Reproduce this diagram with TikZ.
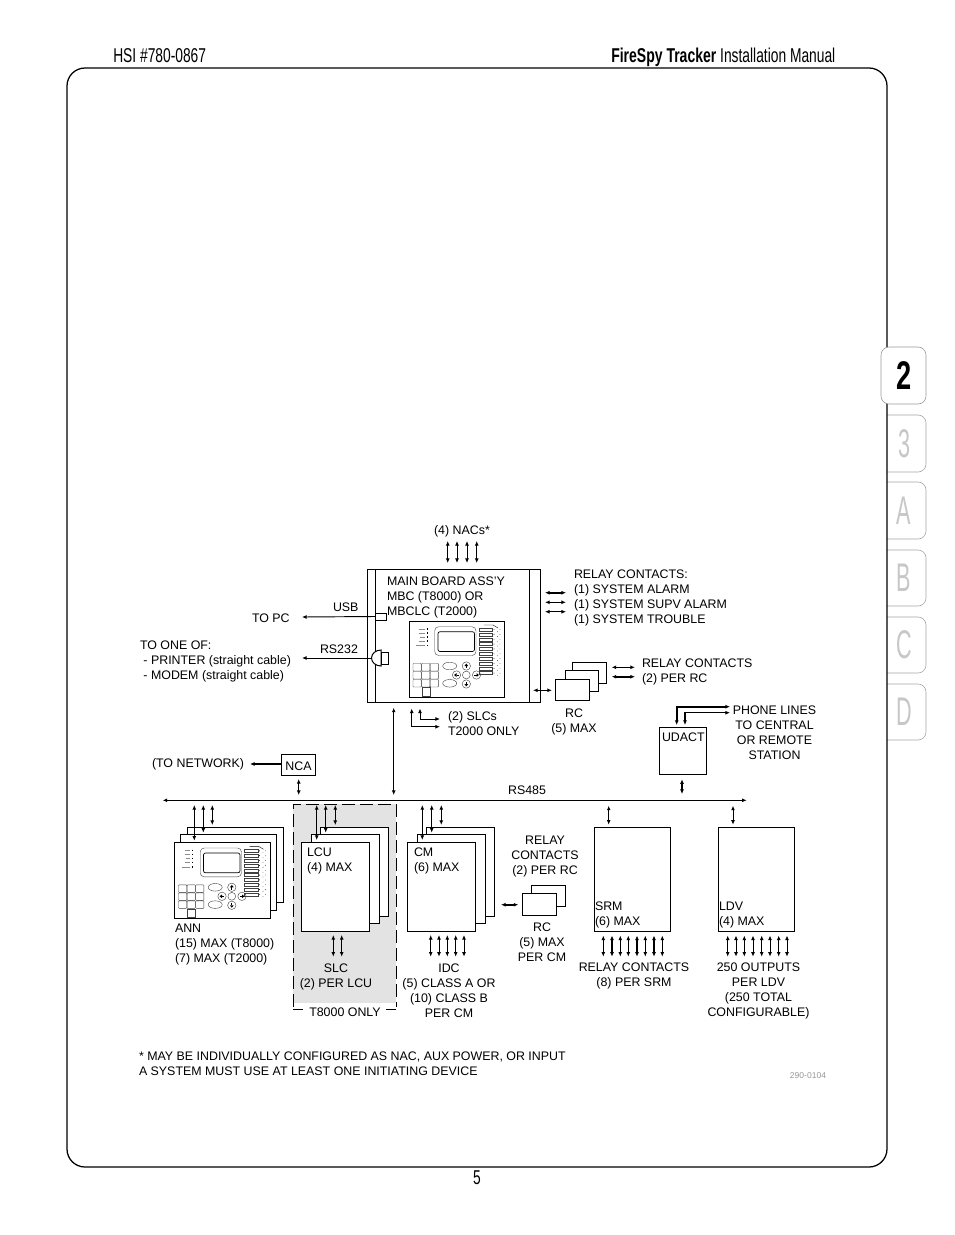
\documentclass[tikz,border=0pt]{standalone}
\usepackage{fontspec}
\usetikzlibrary{arrows.meta}
\setmainfont{Liberation Sans}
\newfontfamily\condfont[FakeStretch=0.69]{Liberation Sans}
\newfontfamily\condbold[FakeStretch=0.70]{Liberation Sans Bold}
\newfontfamily\tabfont[FakeStretch=0.54]{Liberation Sans}
\newfontfamily\tabbold[FakeStretch=0.68]{Liberation Sans Bold}
\newcommand{\labfont}{\fontsize{9.3}{11.25}\selectfont}
\tikzset{
  lab/.style={inner sep=0pt,outer sep=0pt,yshift=-1.9pt,font=\labfont,
    execute at begin node=\strut,execute at end node=\strut},
  labl/.style={lab,anchor=west,align=left},
  labc/.style={lab,anchor=center,align=center},
  boxn/.style={draw=black,fill=white,line width=.75pt,outer sep=0pt},
  dbl/.style={{Latex[length=3.4pt,width=2.9pt]}-{Latex[length=3.4pt,width=2.9pt]},line width=.7pt},
  sgl/.style={-{Latex[length=3.4pt,width=2.9pt]},line width=.7pt},
  thk/.style={line width=1.3pt},
  wire/.style={draw=black,line width=.75pt},
  fine/.style={draw=black!75,line width=.3pt},
  tabn/.style={draw=black!35,line width=.45pt},
  tabt/.style={inner sep=0pt,text=black!22,font=\tabfont\fontsize{30}{30}\selectfont},
  panel/.pic={
    % outer frame
    \draw[wire,fill=white] (0,0) rectangle (95.5,76.5);
    % annunciator labels
    \foreach \yy/\xx in {8/10,12/10,16/11,20/10,24.5/7}{\draw[black!45,line width=.45pt] (\xx,\yy)--(15.5,\yy);
      \draw[black,line width=.7pt] (18,\yy-.7)--(18,\yy+.7);}
    % display
    \draw[fine,rounded corners=3pt] (25.7,5.7) rectangle (67,34.5);
    \draw[draw=black,line width=.5pt,rounded corners=1.5pt,fill=white] (29,10.7) rectangle (65.5,30.5);
    % bar column
    \foreach \i in {0,...,9}{\draw[fine] (70,7+4.85*\i) rectangle (83.5,10+4.85*\i);
      \fill[black] (85,8.5+4.85*\i) circle[radius=.45];
      \fill[black!70] (88.5,10.5+4.85*\i) circle[radius=.4];
      \fill[black!70] (91,8.5+4.85*\i) circle[radius=.4];}
    \draw[black,line width=.3pt] (75,4)--(84,4)--(89,7);
    % keypad
    \foreach \c in {0,1,2}\foreach \r in {0,1,2}{\draw[fine,rounded corners=.5pt] (4+8.6*\c,42.5+8*\r) rectangle (12.2+8.6*\c,50+8*\r);}
    \draw[fine] (13,66.5) rectangle (21,75);
    % soft keys
    \draw[fine] (40.7,45) ellipse[x radius=7,y radius=3.8];
    \draw[fine] (40.7,62.3) ellipse[x radius=7,y radius=3.8];
    % arrow pad
    \draw[fine] (57.3,54) circle[radius=3.9];
    \foreach \xx/\yy/\ax/\ay in {57.3/45/0/-1,57.3/63/0/1,47.5/54/-1/0,67.5/54/1/0}{
      \draw[fine] (\xx,\yy) circle[radius=4.2];
      \fill[black] (\xx+2.4*\ax,\yy+2.4*\ay) -- (\xx+1.9*\ay,\yy+1.9*\ax) -- (\xx-1.9*\ay,\yy-1.9*\ax) -- cycle;
      \draw[black,line width=.5pt] (\xx,\yy)--(\xx-2.2*\ax,\yy-2.2*\ay);}
  }
}
\newcommand{\dar}[6][]{\coordinate (#2a) at (#3,#4);\coordinate (#2b) at (#5,#6);\draw[dbl,#1] (#2a)--(#2b);}
\begin{document}
\begin{tikzpicture}[x=.75pt,y=-.75pt]
\useasboundingbox (0,0) rectangle (954,1235);
\fill[white] (0,0) rectangle (954,1235);
% side tabs
\foreach \nm/\ya/\yb/\tx in {t3/415/472/3,tA/482/539/A,tB/550/606/B,tC/617/673/C,tD/684/740/D}{
  \draw[tabn,rounded corners=6pt] (887,\ya) -- (926,\ya) -- (926,\yb) -- (887,\yb);
  \node[tabt] (\nm) at (904,{(\ya+\yb)/2}) {\tx};
}
% frame
\node[draw=black,line width=.95pt,rounded corners=13.5pt,minimum width=615pt,minimum height=824.25pt,inner sep=0pt,outer sep=0pt] (frame) at (477,617.5) {};
\node[draw=black!40,fill=white,line width=.45pt,rounded corners=6pt,minimum width=33.75pt,minimum height=42.75pt,inner sep=0pt] (tab2) at (903.5,375.5) {};
\node[inner sep=0pt,text=black,font=\tabbold\fontsize{30}{30}\selectfont] (t2) at (904,375.5) {2};
% header
\node[inner sep=0pt,anchor=base west,font=\condfont\fontsize{15}{15}\selectfont] (hdrl) at (113,62) {HSI \#780-0867};
\node[inner sep=0pt,anchor=base west,font=\fontsize{15}{15}\selectfont] (hdrr) at (611,62) {\condbold FireSpy Tracker \condfont Installation Manual};
\node[inner sep=0pt,font=\condfont\fontsize{15}{15}\selectfont] (pg) at (477,1178) {5};
% grey T8000 region
\fill[black!11] (293,804) rectangle (396,1003);
\draw[wire,dash pattern=on 9.5pt off 4pt] (293,1007)--(293,804)--(396,804)--(396,1007);
\coordinate (gl) at (293,1009);\coordinate (gr) at (396,1009);
\draw[wire] (gl)--+(10,0);\draw[wire] (gr)--+(-10,0);
\node[labc,fill=white,inner xsep=2pt] (t8) at (345,1011) {T8000 ONLY};
% main board
\node[boxn,anchor=north west,minimum width=130pt,minimum height=100pt,inner sep=0pt] (mb) at (367.5,569) {};
\draw[wire] (375.5,569)--(375.5,702);
\draw[wire] (529.5,569)--(529.5,702);
\node[labl] (mbt) at (387,596) {MAIN BOARD ASS'Y\\MBC (T8000) OR\\MBCLC (T2000)};
\pic (pm) at (409,621) {panel};
\node[boxn,anchor=north west,minimum width=8.25pt,minimum height=5.25pt,inner sep=0pt] (usb) at (375,613) {};
\draw[wire,fill=white] (381,650) arc[start angle=270,end angle=90,x radius=9.5,y radius=8] -- cycle;
\node[boxn,anchor=north west,minimum width=5.25pt,minimum height=9.5pt,inner sep=0pt] (rs) at (381,652) {};
\coordinate (rsl) at (371.5,658);
% NACs
\node[labc] (nac) at (462,529) {(4) NACs*};
\foreach \i/\x in {1/447.7,2/457,3/467,4/476.7}{\dar{n\i}{\x}{541}{\x}{563}}
% relay contacts
\node[labl] (rel) at (574,596.5) {RELAY CONTACTS:\\(1) SYSTEM ALARM\\(1) SYSTEM SUPV ALARM\\(1) SYSTEM TROUBLE};
\dar[thk]{r1}{545}{592.7}{566}{592.7}
\dar{r2}{545}{602.3}{566}{602.3}
\dar{r3}{545}{611.7}{566}{611.7}
% USB, RS232
\node[labl] (usbt) at (333,606) {USB};
\node[labl] (topc) at (252,617) {TO PC};
\coordinate (topce) at (302,617);
\draw[sgl] (usb.west)--(topce);
\node[labl] (rst) at (320,648) {RS232};
\node[labl] (one) at (140,660) {TO ONE OF:\\\hspace*{2.6pt}- PRINTER (straight cable)\\\hspace*{2.6pt}- MODEM (straight cable)};
\coordinate (onee) at (302,658);
\draw[sgl] (rsl)--(onee);
% RC stack at main
\node[boxn,anchor=north west,minimum width=25.8pt,minimum height=16pt,inner sep=0pt] (rc3) at (572.3,662.3) {};
\node[boxn,anchor=north west,minimum width=25.3pt,minimum height=16pt,inner sep=0pt] (rc2) at (565,670.3) {};
\node[boxn,anchor=north west,minimum width=25.8pt,minimum height=16pt,inner sep=0pt] (rc1) at (555.3,679.3) {};
\dar{mrc}{533}{690.3}{552}{690.3}
\node[labc] (rct) at (574,720.5) {RC\\(5) MAX};
\dar{c1}{611.7}{667.3}{635}{667.3}
\dar[thk]{c2}{611.7}{676.7}{635}{676.7}
\node[labl] (rclab) at (642,670.5) {RELAY CONTACTS\\(2) PER RC};
% SLCs T2000
\node[labl] (slct) at (448,723.5) {(2) SLCs\\T2000 ONLY};
\coordinate (s1) at (411.7,708.5);\coordinate (s1e) at (440,726.7);
\coordinate (s2) at (420,708.5);\coordinate (s2e) at (440,719);
\draw[dbl] (s1)|-(s1e);
\draw[dbl] (s2)|-(s2e);
% UDACT
\node[boxn,anchor=north west,minimum width=35.5pt,minimum height=35.25pt,inner sep=0pt] (ud) at (659.3,727.3) {};
\node[labl] (udt) at (662,736) {UDACT};
\coordinate (p1) at (730,706.7);\coordinate (p1e) at (676.7,725);
\coordinate (p2) at (730,712.7);\coordinate (p2e) at (685,725);
\draw[dbl,thk] (p1)-|(p1e);
\draw[dbl,line width=.8pt] (p2)-|(p2e);
\node[labc] (pht) at (774.5,732.5) {PHONE LINES\\TO CENTRAL\\OR REMOTE\\STATION};
\dar[thk]{ua}{682}{779.3}{682}{794}
% bus
\coordinate (busl) at (162.7,800.3);\coordinate (busr) at (746.7,800.3);
\draw[dbl,line width=.85pt] (busl)--(busr);
\node[labc] (rs485) at (527,789) {RS485};
\dar{mbus}{393.7}{707.7}{393.7}{795}
% NCA
\node[boxn,anchor=north west,minimum width=25.8pt,minimum height=16pt,inner sep=0pt] (nca) at (281.3,754.3) {};
\node[labc] (ncat) at (nca.center) {NCA};
\coordinate (nete) at (250,764);
\draw[sgl,thk] (nca.west|-nete)--(nete);
\node[labl] (net) at (152,762) {(TO NETWORK)};
\dar{nb}{298.7}{779}{298.7}{795}
% ANN stack
\node[boxn,anchor=north west,minimum width=72pt,minimum height=56.5pt,inner sep=0pt] (an3) at (187.3,827.3) {};
\node[boxn,anchor=north west,minimum width=72.5pt,minimum height=57.5pt,inner sep=0pt] (an2) at (180,834) {};
\pic (pa) at (174.5,842.3) {panel};
\dar{a1}{194.3}{805}{194.3}{840.7}
\dar{a2}{203.3}{805}{203.3}{832.7}
\dar{a3}{212.3}{805}{212.3}{825}
\node[labl] (annt) at (175,943) {ANN\\(15) MAX (T8000)\\(7) MAX (T2000)};
% LCU stack
\node[boxn,anchor=north west,minimum width=51pt,minimum height=67pt,inner sep=0pt] (lc3) at (320.7,827.3) {};
\node[boxn,anchor=north west,minimum width=51pt,minimum height=67pt,inner sep=0pt] (lc2) at (311.7,834) {};
\node[boxn,anchor=north west,minimum width=51.3pt,minimum height=67pt,inner sep=0pt] (lc1) at (301.3,842.3) {};
\node[labl] (lcut) at (307,859.5) {LCU\\(4) MAX};
\dar{l1}{316.7}{805}{316.7}{840}
\dar{l2}{325.7}{805}{325.7}{832.7}
\dar{l3}{335.3}{805}{335.3}{825}
\dar{sl1}{333.3}{935}{333.3}{956.7}
\dar{sl2}{341.7}{935}{341.7}{956.7}
\node[labc] (slc) at (336,975.5) {SLC\\(2) PER LCU};
% CM stack
\node[boxn,anchor=north west,minimum width=51pt,minimum height=67pt,inner sep=0pt] (cm3) at (426.3,827.3) {};
\node[boxn,anchor=north west,minimum width=51pt,minimum height=67pt,inner sep=0pt] (cm2) at (417.7,834) {};
\node[boxn,anchor=north west,minimum width=51.3pt,minimum height=67pt,inner sep=0pt] (cm1) at (407.3,842.3) {};
\node[labl] (cmt) at (414,859.5) {CM\\(6) MAX};
\dar{m1}{422.3}{805}{422.3}{840}
\dar{m2}{431.7}{805}{431.7}{832.7}
\dar{m3}{441.3}{805}{441.3}{825}
\foreach \i/\x in {1/430.7,2/439,3/447.3,4/455.7,5/464}{\dar{id\i}{\x}{935}{\x}{956.7}}
\node[labc] (idc) at (449,990.5) {IDC\\(5) CLASS A OR\\(10) CLASS B\\PER CM};
% RC per CM
\node[labc] (rcc) at (545,855) {RELAY\\CONTACTS\\(2) PER RC};
\node[boxn,anchor=north west,minimum width=25.8pt,minimum height=16pt,inner sep=0pt] (rb2) at (531.3,885.3) {};
\node[boxn,anchor=north west,minimum width=25.8pt,minimum height=16.5pt,inner sep=0pt] (rb1) at (522.3,893.3) {};
\dar[thk]{cr}{501}{904.7}{518.3}{904.7}
\node[labc] (rcm) at (542,941.5) {RC\\(5) MAX\\PER CM};
% SRM
\node[boxn,anchor=north west,minimum width=57pt,minimum height=78pt,inner sep=0pt] (srm) at (594.3,827.3) {};
\node[labl] (srmt) at (595,913.5) {SRM\\(6) MAX};
\dar{sa}{608.7}{805.7}{608.7}{824.7}
\foreach \i/\x/\w in {1/603.3/.7pt,2/612/1.1pt,3/620.3/.7pt,4/628.3/.7pt,5/637/1.2pt,6/645.3/.7pt,7/654/.9pt,8/662.3/.7pt}{\dar[line width=\w]{sr\i}{\x}{935.5}{\x}{956.7}}
\node[labc] (srt) at (634,974.5) {RELAY CONTACTS\\(8) PER SRM};
% LDV
\node[boxn,anchor=north west,minimum width=57pt,minimum height=78pt,inner sep=0pt] (ldv) at (718.3,827.3) {};
\node[labl] (ldvt) at (719,913.5) {LDV\\(4) MAX};
\dar{la}{733}{805.7}{733}{824.7}
\foreach \i/\x in {1/727.7,2/736,3/744.3,4/753,5/761.7,6/770,7/778.7,8/787}{\dar{ld\i}{\x}{935.5}{\x}{956.7}}
\node[labc] (ldt) at (758.5,989.5) {250 OUTPUTS\\PER LDV\\(250 TOTAL\\CONFIGURABLE)};
% notes
\node[labl] (note) at (139,1063.5) {* MAY BE INDIVIDUALLY CONFIGURED AS NAC, AUX POWER, OR INPUT\\A SYSTEM MUST USE AT LEAST ONE INITIATING DEVICE};
\node[inner sep=0pt,text=black!40,font=\fontsize{6.4}{7}\selectfont] (code) at (808,1076) {290-0104};
\end{tikzpicture}
\end{document}
